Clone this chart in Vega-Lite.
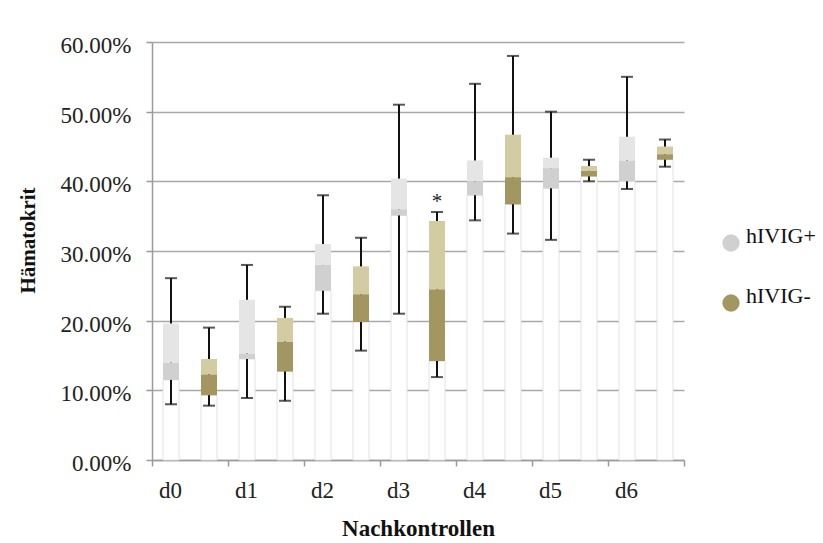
{
  "$schema": "https://vega.github.io/schema/vega-lite/v6.json",
  "width": 532,
  "height": 418,
  "autosize": "none",
  "padding": {"left": 152, "top": 42, "right": 139, "bottom": 83},
  "background": "white",
  "config": {
    "font": "Liberation Serif",
    "view": {"stroke": null},
    "axis": {
      "labelFont": "Liberation Serif",
      "titleFont": "Liberation Serif",
      "labelColor": "#222222",
      "titleColor": "#111111",
      "domainColor": "#9a9a9a",
      "domainWidth": 1.5,
      "tickColor": "#9a9a9a",
      "tickWidth": 1.5,
      "tickSize": 6
    }
  },
  "data": {
    "values": [
      {"day": "d0", "group": "hIVIG+", "min": 8.0, "q1": 11.5, "median": 14.0, "q3": 19.6, "max": 26.1, "note": ""},
      {"day": "d0", "group": "hIVIG-", "min": 7.8, "q1": 9.3, "median": 12.3, "q3": 14.5, "max": 19.0, "note": ""},
      {"day": "d1", "group": "hIVIG+", "min": 8.9, "q1": 14.5, "median": 15.3, "q3": 23.0, "max": 28.0, "note": ""},
      {"day": "d1", "group": "hIVIG-", "min": 8.5, "q1": 12.7, "median": 17.0, "q3": 20.4, "max": 22.0, "note": ""},
      {"day": "d2", "group": "hIVIG+", "min": 21.0, "q1": 24.3, "median": 28.0, "q3": 31.0, "max": 38.0, "note": ""},
      {"day": "d2", "group": "hIVIG-", "min": 15.7, "q1": 19.8, "median": 23.8, "q3": 27.8, "max": 31.9, "note": ""},
      {"day": "d3", "group": "hIVIG+", "min": 21.0, "q1": 35.1, "median": 36.0, "q3": 40.4, "max": 51.0, "note": ""},
      {"day": "d3", "group": "hIVIG-", "min": 11.9, "q1": 14.2, "median": 24.5, "q3": 34.3, "max": 35.6, "note": "*"},
      {"day": "d4", "group": "hIVIG+", "min": 34.4, "q1": 38.0, "median": 40.0, "q3": 43.0, "max": 54.0, "note": ""},
      {"day": "d4", "group": "hIVIG-", "min": 32.5, "q1": 36.7, "median": 40.6, "q3": 46.7, "max": 58.0, "note": ""},
      {"day": "d5", "group": "hIVIG+", "min": 31.6, "q1": 39.0, "median": 41.9, "q3": 43.4, "max": 50.0, "note": ""},
      {"day": "d5", "group": "hIVIG-", "min": 40.0, "q1": 40.7, "median": 41.5, "q3": 42.2, "max": 43.1, "note": ""},
      {"day": "d6", "group": "hIVIG+", "min": 38.9, "q1": 40.0, "median": 43.0, "q3": 46.4, "max": 55.0, "note": ""},
      {"day": "d6", "group": "hIVIG-", "min": 42.1, "q1": 43.1, "median": 43.9, "q3": 45.0, "max": 46.0, "note": ""}
    ]
  },
  "encoding": {
    "x": {
      "field": "day",
      "type": "nominal",
      "sort": ["d0", "d1", "d2", "d3", "d4", "d5", "d6"],
      "scale": {"paddingInner": 0, "paddingOuter": 0},
      "title": "Nachkontrollen",
      "axis": {
        "labelAngle": 0,
        "tickBand": "extent",
        "labelOffset": -20,
        "labelFontSize": 23,
        "labelPadding": 13,
        "titleFontSize": 23,
        "titleFontWeight": "bold",
        "titleBaseline": "alphabetic",
        "titleY": 75,
        "grid": false
      }
    },
    "xOffset": {
      "field": "group",
      "type": "nominal",
      "sort": ["hIVIG+", "hIVIG-"],
      "scale": {"paddingInner": 0, "paddingOuter": 0}
    }
  },
  "layer": [
    {
      "mark": {"type": "bar", "width": 16, "fill": "white", "stroke": "#e2e2e2", "strokeWidth": 1},
      "encoding": {
        "y": {
          "field": "q1",
          "type": "quantitative",
          "scale": {"domain": [0, 60]},
          "title": "Hämatokrit",
          "axis": {
            "values": [0, 10, 20, 30, 40, 50, 60],
            "labelExpr": "format(datum.value, '.2f') + '%'",
            "labelFontSize": 23,
            "labelPadding": 15,
            "labelOffset": 3.5,
            "grid": true,
            "gridColor": "#a9a9a9",
            "gridWidth": 1.3,
            "titleFontSize": 21,
            "titleFontWeight": "bold",
            "titleX": -114,
            "titleY": 198
          }
        }
      }
    },
    {
      "mark": {"type": "rule", "color": "#111111", "strokeWidth": 2},
      "encoding": {
        "y": {"field": "min", "type": "quantitative"},
        "y2": {"field": "max"}
      }
    },
    {
      "mark": {"type": "bar", "width": 16},
      "encoding": {
        "y": {"field": "q1", "type": "quantitative"},
        "y2": {"field": "median"},
        "color": {
          "field": "group",
          "type": "nominal",
          "sort": ["hIVIG+", "hIVIG-"],
          "scale": {"domain": ["hIVIG+", "hIVIG-"], "range": ["#d0d0d0", "#a39660"]},
          "legend": {
            "title": null,
            "orient": "none",
            "legendX": 568,
            "legendY": 190,
            "symbolType": "circle",
            "symbolSize": 300,
            "symbolStrokeWidth": 0,
            "labelFont": "Liberation Serif",
            "labelFontSize": 22,
            "labelColor": "#111111",
            "labelBaseline": "alphabetic",
            "labelOffset": 4,
            "rowPadding": 33,
            "padding": 0
          }
        }
      }
    },
    {
      "mark": {"type": "bar", "width": 16},
      "encoding": {
        "y": {"field": "median", "type": "quantitative"},
        "y2": {"field": "q3"},
        "color": {
          "field": "group",
          "type": "nominal",
          "sort": ["hIVIG+", "hIVIG-"],
          "scale": {"domain": ["hIVIG+", "hIVIG-"], "range": ["#e5e5e5", "#d3cca3"]},
          "legend": null
        }
      }
    },
    {
      "mark": {"type": "tick", "color": "#111111", "thickness": 2, "size": 12},
      "encoding": {
        "y": {"field": "min", "type": "quantitative"}
      }
    },
    {
      "mark": {"type": "tick", "color": "#111111", "thickness": 2, "size": 12},
      "encoding": {
        "y": {"field": "max", "type": "quantitative"}
      }
    },
    {
      "mark": {"type": "text", "font": "Liberation Serif", "fontSize": 21, "baseline": "alphabetic", "dy": -4, "color": "#222222"},
      "encoding": {
        "y": {"field": "max", "type": "quantitative"},
        "text": {"field": "note"}
      }
    }
  ],
  "resolve": {"scale": {"color": "independent"}}
}
